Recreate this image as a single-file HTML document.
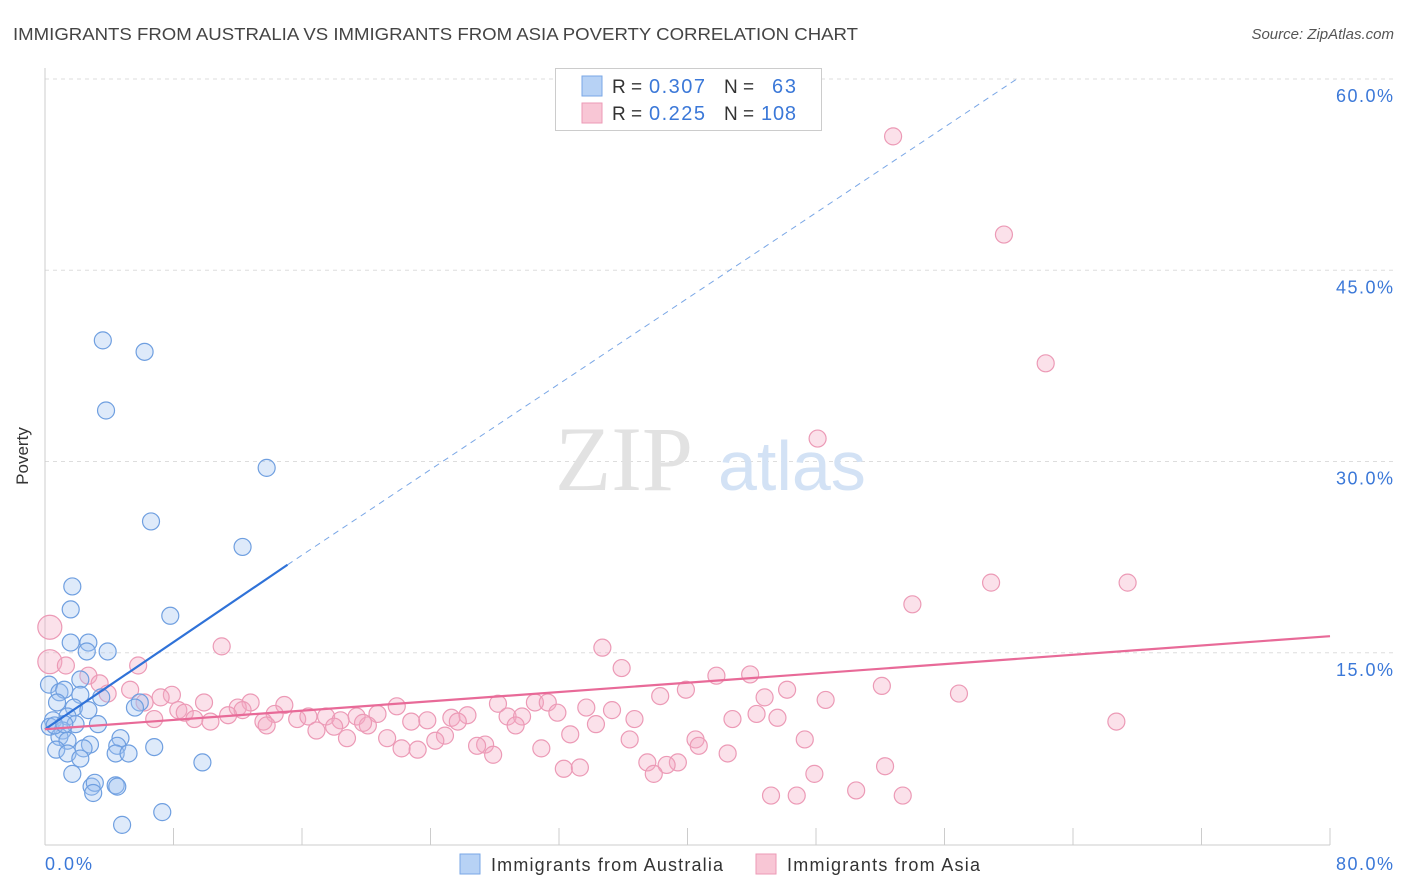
<!DOCTYPE html>
<html><head><meta charset="utf-8"><style>
body{margin:0;background:#fff;font-family:"Liberation Sans",sans-serif;}
svg{display:block}
</style></head><body>
<svg id="chart" width="1406" height="892" xmlns="http://www.w3.org/2000/svg">
<text x="13" y="40" font-size="17.5" fill="#444" textLength="845" lengthAdjust="spacingAndGlyphs">IMMIGRANTS FROM AUSTRALIA VS IMMIGRANTS FROM ASIA POVERTY CORRELATION CHART</text>
<text x="1394" y="39" font-size="15" fill="#555" font-style="italic" text-anchor="end">Source: ZipAtlas.com</text>
<g id="grid"></g>
<text x="555" y="490" font-size="92" fill="#e2e2e2" font-family="Liberation Serif,serif">ZIP</text>
<text x="718" y="490" font-size="70" fill="#d3e2f5">atlas</text>
<line x1="45" y1="68" x2="45" y2="845" stroke="#ccc"/>
<line x1="45" y1="845" x2="1330" y2="845" stroke="#ccc"/>
<text x="28" y="456" font-size="17" fill="#333" text-anchor="middle" transform="rotate(-90 28 456)">Poverty</text>
<text x="45" y="870" font-size="18" fill="#3b78d8" textLength="47">0.0%</text>
<text x="1336" y="870" font-size="18" fill="#3b78d8" textLength="57">80.0%</text>
<g id="pts"></g>
<g id="lines"></g>
<g>
<rect x="555.5" y="68.5" width="266" height="62" fill="#fff" stroke="#ccc"/>
<rect x="582" y="76" width="20" height="20" fill="#b7d2f5" stroke="#7aa7e6"/>
<rect x="582" y="103" width="20" height="20" fill="#f8c6d5" stroke="#ec9ab6"/>
<text x="612" y="93" font-size="19" fill="#333">R = </text>
<text x="649" y="93" font-size="20" fill="#3b78d8" textLength="56">0.307</text>
<text x="724" y="93" font-size="19" fill="#333">N = </text>
<text x="772" y="93" font-size="20" fill="#3b78d8" textLength="24">63</text>
<text x="612" y="120" font-size="19" fill="#333">R = </text>
<text x="649" y="120" font-size="20" fill="#3b78d8" textLength="56">0.225</text>
<text x="724" y="120" font-size="19" fill="#333">N = </text>
<text x="761" y="120" font-size="20" fill="#3b78d8" textLength="35">108</text>
</g>
<g>
<rect x="460" y="854" width="20" height="20" fill="#b7d2f5" stroke="#7aa7e6"/>
<text x="491" y="871" font-size="18" fill="#333" textLength="232">Immigrants from Australia</text>
<rect x="756" y="854" width="20" height="20" fill="#f8c6d5" stroke="#ec9ab6"/>
<text x="787" y="871" font-size="18" fill="#333" textLength="193">Immigrants from Asia</text>
</g>
</svg>
<script>
const yTicks=[15,30,45,60];
const yTickLabels=["15.0%","30.0%","45.0%","60.0%"];
const xTicks=[0,8,16,24,32,40,48,56,64,72,80];
const ausX=[3.6,6.2,3.8,13.8,6.6,12.3,1.7,1.6,7.8,1.6,2.7,2.6,3.9,0.25,2.2,0.9,1.2,2.2,3.5,0.75,1.8,2.7,5.9,5.6,1.4,0.5,3.3,1.9,0.3,1.1,0.9,1.4,4.7,2.8,2.4,4.5,6.8,0.7,1.4,4.4,5.2,2.2,9.8,1.7,2.9,3.1,3.0,4.4,4.5,7.3,4.8,0.6,1.2];
const ausY=[39.5,38.6,34.0,29.5,25.3,23.3,20.2,18.4,17.9,15.8,15.8,15.1,15.1,12.5,12.9,11.9,12.1,11.7,11.5,11.1,10.7,10.5,11.1,10.7,10.0,9.7,9.4,9.4,9.2,8.9,8.4,8.1,8.3,7.8,7.5,7.7,7.6,7.4,7.1,7.1,7.1,6.7,6.4,5.5,4.5,4.8,4.0,4.6,4.5,2.5,1.5,9.3,9.4];
const asiaX=[52.8,59.7,62.3,48.1,58.9,67.4,54.0,0.3,11.0,34.7,0.3,1.3,5.8,35.9,43.9,41.8,2.7,3.4,5.3,39.9,46.2,52.1,38.3,3.9,7.9,7.2,44.8,56.9,48.6,9.9,12.8,6.2,14.9,21.9,28.2,30.5,31.3,33.7,35.3,12.0,8.3,8.7,12.3,14.3,17.5,19.4,20.7,26.3,31.9,28.8,29.7,6.8,9.3,11.4,15.7,16.4,18.4,13.6,25.3,36.7,42.8,44.3,45.6,66.7,10.3,22.8,23.8,25.7,29.3,34.3,20.1,19.8,13.8,18.0,16.9,24.9,32.7,18.8,21.3,36.4,40.5,47.3,40.7,24.3,27.4,26.9,22.2,23.2,30.9,27.9,42.5,37.5,39.4,38.7,52.3,32.3,33.3,37.9,47.9,45.2,46.8,50.5,53.4];
const asiaY=[55.5,47.8,37.7,31.8,20.5,20.5,18.8,17.0,15.5,15.4,14.3,14.0,14.0,13.8,13.3,13.2,13.2,12.6,12.1,12.1,12.1,12.4,11.6,11.8,11.7,11.5,11.5,11.8,11.3,11.1,11.1,11.1,10.9,10.8,11.0,11.1,11.1,10.7,10.5,10.7,10.5,10.3,10.5,10.2,10.0,10.0,10.2,10.1,10.3,10.0,10.0,9.8,9.8,10.1,9.8,10.0,9.7,9.6,9.9,9.8,9.8,10.2,9.9,9.6,9.6,9.6,9.7,9.6,9.3,9.4,9.3,9.5,9.3,9.2,8.9,8.5,8.6,8.3,8.3,8.2,8.2,8.2,7.7,8.1,7.8,7.7,7.5,7.4,7.5,7.0,7.1,6.4,6.4,6.2,6.1,5.9,6.0,5.5,5.5,3.8,3.8,4.2,3.8];
const ausTrend=[0,9.0,15.1,21.9,60.5,60.0];
const asiaTrend=[0,9.0,80,16.3];
const xs=v=>45+v*1285/80, ys=v=>844-v*12.75;
const NS="http://www.w3.org/2000/svg";
function mk(t,a,p){const e=document.createElementNS(NS,t);for(const k in a)e.setAttribute(k,a[k]);p.appendChild(e);return e;}
const grid=document.getElementById('grid');
yTicks.forEach((v,i)=>{
  const l=mk('line',{x1:45,x2:1393,y1:ys(v),y2:ys(v),stroke:'#ddd','stroke-dasharray':'4,4'},grid);
  
  
  const t=mk('text',{x:1393,y:ys(v)+23,'font-size':18,fill:'#3b78d8','text-anchor':'end',textLength:57},grid);
  t.textContent=yTickLabels[i];
  
  
});
xTicks.forEach(v=>{
  const l=mk('line',{x1:xs(v),x2:xs(v),y1:828,y2:845,stroke:'#ccc'},grid);
  
  
});
const pts=document.getElementById('pts');
asiaX.forEach((x,i)=>{
  const big=(x<1&&asiaY[i]>14);
  const c=mk('circle',{cx:xs(x),cy:ys(asiaY[i]),r:big?12:8.5,fill:'rgba(244,170,196,0.35)',stroke:'#ec9ab6','stroke-width':1.2},pts);
  
  
});
ausX.forEach((x,i)=>{
  const c=mk('circle',{cx:xs(x),cy:ys(ausY[i]),r:8.5,fill:'rgba(160,196,240,0.35)',stroke:'#6f9fe0','stroke-width':1.2},pts);
  
  
});
const lines=document.getElementById('lines');
const bl=mk('line',{x1:xs(ausTrend[0]),y1:ys(ausTrend[1]),x2:xs(ausTrend[2]),y2:ys(ausTrend[3]),stroke:'#2f72d8','stroke-width':2.2},lines);


const bd=mk('line',{x1:xs(ausTrend[2]),y1:ys(ausTrend[3]),x2:xs(ausTrend[4]),y2:ys(ausTrend[5]),stroke:'#7aa7e6','stroke-width':1,'stroke-dasharray':'6,5'},lines);


const pl=mk('line',{x1:xs(asiaTrend[0]),y1:ys(asiaTrend[1]),x2:xs(asiaTrend[2]),y2:ys(asiaTrend[3]),stroke:'#e86a98','stroke-width':2.2},lines);


</script>
</body></html>
